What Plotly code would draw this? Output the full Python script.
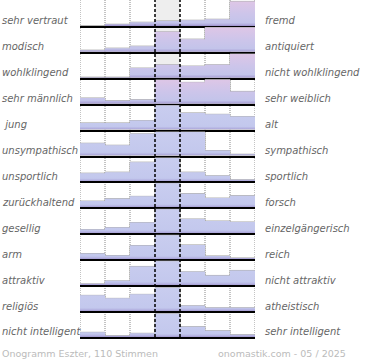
import plotly.graph_objects as go
from plotly.subplots import make_subplots

left_labels = ["sehr vertraut", "modisch", "wohlklingend", "sehr männlich", " jung",
               "unsympathisch", "unsportlich", "zurückhaltend", "gesellig", "arm",
               "attraktiv", "religiös", "nicht intelligent"]
right_labels = ["fremd", "antiquiert", "nicht wohlklingend", "sehr weiblich", "alt",
                "sympathisch", "sportlich", "forsch", "einzelgängerisch", "reich",
                "nicht attraktiv", "atheistisch", "sehr intelligent"]

# estimated bar heights per row (7 steps of the scale)
v_vertraut = [0, 1.7, 3.7, 5.0, 5.7, 6.7, 24.5]
v_modisch = [1.7, 3.7, 5.7, 20.0, 12.7, 24.3, 24.3]
v_wohlklingend = [0.6, 0.6, 9.7, 13.0, 11.7, 13.0, 23.7]
v_maennlich = [5.7, 3.0, 4.0, 23.7, 21.3, 24.0, 12.3]
v_jung = [6.7, 6.7, 9.0, 24.0, 16.7, 15.3, 13.0]
v_unsympathisch = [12.3, 10.3, 21.7, 23.5, 23.5, 5.0, 1.3]
v_unsportlich = [8.3, 9.3, 19.3, 23.5, 9.3, 5.7, 1.7]
v_zurueckhaltend = [6.3, 8.7, 11.0, 24.0, 13.7, 9.3, 11.7]
v_gesellig = [3.7, 5.7, 10.7, 24.0, 14.3, 12.3, 11.3]
v_arm = [5.7, 3.7, 13.7, 24.0, 14.3, 3.3, 1.3]
v_attraktiv = [1.3, 4.3, 18.7, 24.0, 13.3, 9.7, 14.7]
v_religioes = [15.7, 12.7, 16.7, 23.3, 5.3, 3.3, 3.3]
v_intelligent = [4.7, 1.3, 3.7, 23.3, 10.3, 6.3, 2.3]

rows = [v_vertraut, v_modisch, v_wohlklingend, v_maennlich, v_jung, v_unsympathisch,
        v_unsportlich, v_zurueckhaltend, v_gesellig, v_arm, v_attraktiv, v_religioes,
        v_intelligent]
pink_rows = 4

footer_left = "Onogramm Eszter, 110 Stimmen"
footer_right = "onomastik.com - 05 / 2025"

n = len(rows)
fig = make_subplots(rows=n, cols=1, vertical_spacing=0)

pink_scale = [[0, '#9c90ca'], [0.05, '#b1abdc'], [0.13, '#c3c4ea'], [0.5, '#cdc5ea'], [1, '#dec6e6']]
blue_scale = [[0, '#a297cf'], [0.05, '#b3b1e0'], [0.13, '#c3c8ed'], [1, '#c9cdef']]
label_font = dict(family='DejaVu Sans', size=10, color='#666666', style='italic')

edges = list(range(8))
centers = [i + 0.5 for i in range(7)]
for i, vals in enumerate(rows):
    r = i + 1
    xs = [0] + edges[:7] + [7, 7]
    ys = [0] + vals + [vals[-1], 0]
    fig.add_trace(go.Scatter(
        x=xs, y=ys, mode='lines', line=dict(width=0, shape='hv'),
        fill='toself',
        fillgradient=dict(type='vertical', colorscale=pink_scale if i < pink_rows else blue_scale,
                          start=0, stop=24.5),
        hoverinfo='skip', showlegend=False), row=r, col=1)
    fig.add_trace(go.Bar(
        x=centers, y=vals, width=1,
        marker=dict(color='rgba(0,0,0,0)', line=dict(color='#a8a8a8', width=1)),
        hoverinfo='skip', showlegend=False), row=r, col=1)
    fig.update_yaxes(range=[0, 25.9], visible=False, fixedrange=True, row=r, col=1)
    fig.update_xaxes(range=[0, 7], showline=True, linecolor='black', linewidth=2,
                     showticklabels=False, ticks='', showgrid=False, zeroline=False,
                     row=r, col=1)
    yref = 'y' if r == 1 else f'y{r}'
    fig.add_annotation(text=left_labels[i], xref='paper', yref=yref, x=-80 / 175, y=5,
                       xanchor='left', yanchor='middle', showarrow=False, font=label_font)
    fig.add_annotation(text=right_labels[i], xref='paper', yref=yref, x=(263 - 80) / 175, y=5,
                       xanchor='left', yanchor='middle', showarrow=False, font=label_font)

# center column background
fig.add_shape(type='rect', xref='x', yref='paper', x0=3, x1=4, y0=0, y1=1,
              fillcolor='#eeeeee', line=dict(width=0), layer='below')
for xv in [0, 1, 2, 5, 6, 7]:
    fig.add_shape(type='line', xref='x', yref='paper', x0=xv, x1=xv, y0=0, y1=1,
                  line=dict(color='#888888', width=1, dash='1px,1px'), layer='below')
for xv in [3, 4]:
    fig.add_shape(type='line', xref='x', yref='paper', x0=xv, x1=xv, y0=0, y1=1,
                  line=dict(color='black', width=1.5, dash='3px,2px'), layer='above')

fig.add_annotation(text=footer_left, xref='paper', yref='paper', x=-80 / 175, y=-16 / 337,
                   xanchor='left', yanchor='middle', showarrow=False,
                   font=dict(family='DejaVu Sans', size=9.5, color='#bbbbbb'))
fig.add_annotation(text=footer_right, xref='paper', yref='paper', x=(348 - 80) / 175, y=-16 / 337,
                   xanchor='right', yanchor='middle', showarrow=False,
                   font=dict(family='DejaVu Sans', size=9.5, color='#bbbbbb'))

fig.update_layout(width=370, height=360, margin=dict(l=80, r=115, t=0, b=23),
                  paper_bgcolor='white', plot_bgcolor='white', barmode='overlay',
                  showlegend=False)
fig.write_html("out.html", config={'displayModeBar': False},
               post_script="document.body.style.margin='0';document.body.style.padding='0';")
